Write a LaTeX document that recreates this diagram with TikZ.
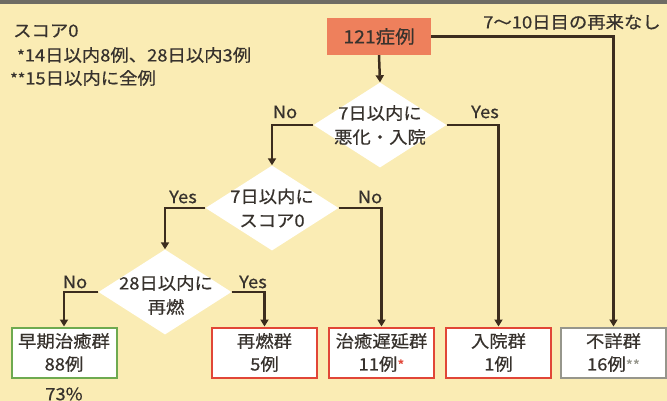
\documentclass[tikz,border=0pt]{standalone}
\usepackage{fontspec}
\setmainfont{Noto Sans CJK JP}[FakeStretch=1.08,FakeBold=0.6]
\usetikzlibrary{shapes.geometric,arrows.meta}
\definecolor{bg}{RGB}{250,236,180}
\definecolor{band}{RGB}{110,108,100}
\definecolor{salmon}{RGB}{238,128,92}
\definecolor{linec}{RGB}{60,45,30}
\definecolor{textc}{RGB}{55,50,45}
\definecolor{okgreen}{RGB}{110,170,80}
\definecolor{badred}{RGB}{225,70,55}
\definecolor{unkgray}{RGB}{150,150,140}
\tikzset{
  txt/.style={inner sep=0pt, text=textc, align=center, font=\fontsize{17}{24}\selectfont},
  startbox/.style={rectangle, fill=salmon, minimum width=104pt, minimum height=37pt, inner sep=0pt, text=textc, font=\fontsize{18}{24}\selectfont},
  dia/.style={diamond, fill=white, minimum width=133pt, minimum height=85pt, inner sep=0pt},
  resbox/.style={rectangle, fill=white, draw=#1, line width=2pt, minimum width=105pt, minimum height=50pt, inner sep=0pt, text=textc, align=center, font=\fontsize{17}{23}\selectfont},
  conn/.style={draw=linec, line width=2.5pt, -{Triangle[width=8pt,length=7pt]}}
}
\begin{document}
\begin{tikzpicture}[x=1pt,y=-1pt]
\useasboundingbox (0,0) rectangle (667,401);
\fill[bg] (0,0) rectangle (667,401);
\fill[band] (0,0) rectangle (667,4);

% notes
\node[txt, anchor=west] (n1) at (13,31) {スコア0};
\node[txt, anchor=west] (n2) at (17,55) {{\fontsize{15}{15}\selectfont *}14日以内8例、28日以内3例};
\node[txt, anchor=west] (n3) at (10,78) {{\fontsize{15}{15}\selectfont **}15日以内に全例};

% start
\node[startbox] (start) at (379,36.5) {121症例};
\node[txt] (lnone) at (572,22) {7〜10日目の再来なし};

% diamonds
\node[dia] (d1) at (380,125) {};
\node[txt] (t1) at (d1) {7日以内に\\悪化・入院};
\node[dia] (d2) at (272,208) {};
\node[txt] (t2) at (d2) {7日以内に\\スコア0};
\node[dia] (d3) at (165,292) {};
\node[txt] (t3) at (166,295) {28日以内に\\再燃};

% result boxes
\node[resbox=okgreen] (b1) at (64,352.5) {早期治癒群\\88例};
\node[resbox=badred] (b2) at (264.5,352.5) {再燃群\\5例};
\node[resbox=badred] (b3) at (381.5,352.5) {治癒遅延群\\11例{\color{badred}\fontsize{14}{14}\selectfont *}};
\node[resbox=badred] (b4) at (498.5,352.5) {入院群\\1例};
\node[resbox=unkgray] (b5) at (613.5,352.5) {不詳群\\16例{\color{unkgray}\fontsize{14}{14}\selectfont **}};
\node[txt] (pct) at (64,394) {73\%};

% connectors
\draw[conn] (start.south) -- (d1.north);
\draw[conn] (start.east) -| (b5.north);
\draw[conn] (d1.west) -| (d2.north);
\draw[conn] (d1.east) -| (b4.north);
\draw[conn] (d2.west) -| (d3.north);
\draw[conn] (d2.east) -| (b3.north);
\draw[conn] (d3.west) -| (b1.north);
\draw[conn] (d3.east) -| (b2.north);

% branch labels
\node[txt] (l1) at (285,112) {No};
\node[txt] (l2) at (485,112) {Yes};
\node[txt] (l3) at (183,197) {Yes};
\node[txt] (l4) at (370,197) {No};
\node[txt] (l5) at (75,282) {No};
\node[txt] (l6) at (253,282) {Yes};
\end{tikzpicture}
\end{document}
